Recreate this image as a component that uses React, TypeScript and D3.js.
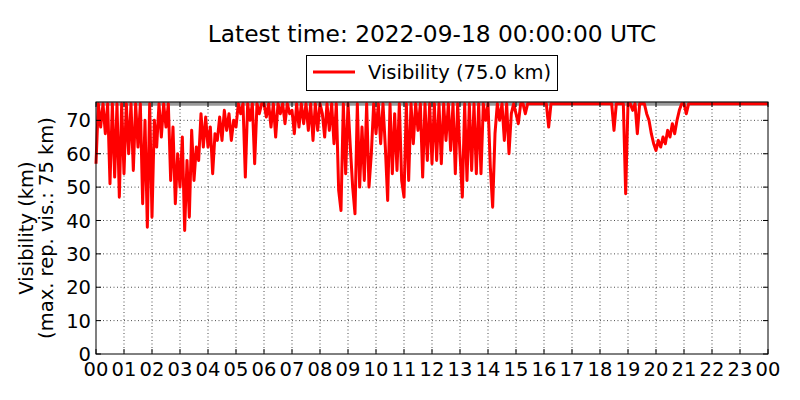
import React, { useEffect, useRef } from 'react';
import * as d3 from 'd3';

// visibility in km, one value every 5 minutes (12 per hour)
const vis00to06 = [
  57, 75, 68, 75, 66, 75, 51, 75, 53, 75, 47, 75,
  54, 75, 60, 75, 55, 75, 62, 75, 45, 70, 38, 75,
  41, 70, 62, 75, 65, 75, 68, 75, 52, 68, 45, 60,
  50, 65, 37, 58, 41, 67, 52, 62, 58, 72, 62, 71,
  62, 68, 54, 66, 64, 71, 64, 73, 67, 72, 64, 70,
  68, 75, 72, 75, 53, 75, 70, 75, 57, 75, 72, 75,
];
const vis06to12 = [
  75, 71, 75, 68, 75, 65, 75, 72, 75, 69, 75, 72,
  73, 66, 75, 68, 75, 69, 75, 67, 75, 64, 75, 67,
  75, 72, 65, 75, 67, 75, 63, 75, 49, 43, 75, 54,
  75, 62, 50, 42, 75, 50, 68, 52, 75, 50, 60, 75,
  66, 75, 63, 75, 62, 46, 75, 54, 72, 55, 75, 52,
  47, 75, 52, 75, 63, 75, 67, 75, 53, 75, 58, 75,
];
const vis12to18 = [
  57, 75, 58, 75, 57, 75, 64, 75, 61, 75, 54, 75,
  60, 47, 75, 52, 75, 55, 75, 54, 75, 54, 75, 70,
  75, 56, 44, 66, 75, 70, 75, 64, 75, 60, 72, 75,
  72, 69, 75, 75, 72, 75, 75, 75, 75, 75, 75, 75,
  75, 75, 68, 75, 75, 75, 75, 75, 75, 75, 75, 75,
  75, 75, 75, 75, 75, 75, 75, 75, 75, 75, 75, 75,
];
const vis18to24 = [
  75, 75, 75, 75, 75, 75, 67, 75, 75, 75, 75, 48,
  75, 75, 73, 75, 66, 75, 75, 75, 72, 70, 66, 63,
  61, 64, 62, 65, 63, 67, 65, 69, 66, 70, 73, 75,
  75, 72, 75, 75, 75, 75, 75, 75, 75, 75, 75, 75,
  75, 75, 75, 75, 75, 75, 75, 75, 75, 75, 75, 75,
  75, 75, 75, 75, 75, 75, 75, 75, 75, 75, 75, 75,
  75,
];

const yTicks = [0, 10, 20, 30, 40, 50, 60, 70];
const hourTicks = d3.range(0, 25);
const maxRepVis = 75;
const titleText = 'Latest time: 2022-09-18 00:00:00 UTC';
const legendText = 'Visibility (75.0 km)';
const yLabel1 = 'Visibility (km)';
const yLabel2 = '(max. rep. vis.: 75 km)';

const App = () => {
  const ref = useRef(null);

  useEffect(() => {
    draw();
  }, []);

  const draw = () => {
    const svg = d3.select(ref.current);
    svg.selectAll('*').remove();

    const font = 'DejaVu Sans, sans-serif';
    const fs = 19.5;
    const left = 96, right = 768, top = 102, bottom = 354;
    const values = [...vis00to06, ...vis06to12, ...vis12to18, ...vis18to24];
    const data = values.map((v, i) => ({ h: i / 12, v }));

    const x = d3.scaleLinear().domain([0, 24]).range([left, right]);
    const y = d3.scaleLinear().domain([0, 75.5]).range([bottom, top]);

    svg.append('rect').attr('width', 800).attr('height', 400).attr('fill', 'white');

    // grid
    const grid = svg.append('g')
      .attr('stroke', '#000').attr('stroke-width', 0.7).attr('stroke-dasharray', '1,2.5');
    hourTicks.slice(1, -1).forEach(h => {
      grid.append('line').attr('x1', x(h)).attr('x2', x(h)).attr('y1', top).attr('y2', bottom);
    });
    yTicks.slice(1).forEach(t => {
      grid.append('line').attr('x1', left).attr('x2', right).attr('y1', y(t)).attr('y2', y(t));
    });

    // max reported visibility line
    svg.append('line')
      .attr('x1', left).attr('x2', right)
      .attr('y1', y(maxRepVis)).attr('y2', y(maxRepVis))
      .attr('stroke', '#999').attr('stroke-width', 4);

    const line = d3.line<any>().x(d => x(d.h)).y(d => y(d.v));
    svg.append('path')
      .datum(data)
      .attr('d', line)
      .attr('fill', 'none')
      .attr('stroke', '#ff0000')
      .attr('stroke-width', 3)
      .attr('stroke-linejoin', 'round');

    // ticks, pointing inward on all sides
    const tk = svg.append('g').attr('stroke', '#000').attr('stroke-width', 1);
    hourTicks.forEach(h => {
      tk.append('line').attr('x1', x(h)).attr('x2', x(h)).attr('y1', bottom).attr('y2', bottom - 5);
      tk.append('line').attr('x1', x(h)).attr('x2', x(h)).attr('y1', top).attr('y2', top + 5);
    });
    yTicks.forEach(t => {
      tk.append('line').attr('x1', left).attr('x2', left + 5).attr('y1', y(t)).attr('y2', y(t));
      tk.append('line').attr('x1', right).attr('x2', right - 5).attr('y1', y(t)).attr('y2', y(t));
    });

    svg.append('rect')
      .attr('x', left).attr('y', top)
      .attr('width', right - left).attr('height', bottom - top)
      .attr('fill', 'none').attr('stroke', '#000').attr('stroke-width', 1);

    // tick labels
    svg.append('g').selectAll('text').data(hourTicks).join('text')
      .attr('x', d => x(d)).attr('y', 376)
      .attr('text-anchor', 'middle')
      .attr('font-family', font).attr('font-size', fs)
      .text(d => d3.format('02d')(d % 24));
    svg.append('g').selectAll('text').data(yTicks).join('text')
      .attr('x', 91).attr('y', d => y(d))
      .attr('dy', '0.36em')
      .attr('text-anchor', 'end')
      .attr('font-family', font).attr('font-size', fs)
      .text(d => d);

    // axis label
    const cy = (top + bottom) / 2;
    svg.append('text')
      .attr('transform', `translate(33,${cy}) rotate(-90)`)
      .attr('text-anchor', 'middle')
      .attr('font-family', font).attr('font-size', fs)
      .text(yLabel1);
    svg.append('text')
      .attr('transform', `translate(53,${cy}) rotate(-90)`)
      .attr('text-anchor', 'middle')
      .attr('font-family', font).attr('font-size', fs)
      .text(yLabel2);

    // title
    svg.append('text')
      .attr('x', (left + right) / 2).attr('y', 42)
      .attr('text-anchor', 'middle')
      .attr('font-family', font).attr('font-size', 23.3)
      .text(titleText);

    // legend
    svg.append('rect')
      .attr('x', 306.5).attr('y', 55.5).attr('width', 251).attr('height', 35)
      .attr('fill', 'white').attr('stroke', '#000').attr('stroke-width', 1);
    svg.append('line')
      .attr('x1', 313).attr('x2', 355).attr('y1', 72).attr('y2', 72)
      .attr('stroke', '#ff0000').attr('stroke-width', 3);
    svg.append('text')
      .attr('x', 368).attr('y', 79)
      .attr('font-family', font).attr('font-size', fs)
      .text(legendText);
  };

  return <svg ref={ref} width="800" height="400" style={{ position: 'absolute', left: 0, top: 0 }}></svg>;
};

export default App;
